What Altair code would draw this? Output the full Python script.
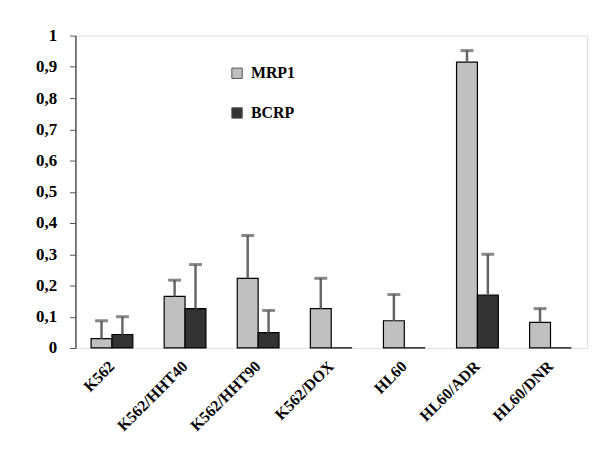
import altair as alt
import pandas as pd

categories = ["K562", "K562/HHT40", "K562/HHT90", "K562/DOX", "HL60", "HL60/ADR", "HL60/DNR"]
series = ["MRP1", "BCRP"]
mrp1 = [0.030, 0.165, 0.223, 0.126, 0.087, 0.915, 0.082]
mrp1_err = [0.057, 0.052, 0.137, 0.097, 0.084, 0.037, 0.044]
bcrp = [0.043, 0.126, 0.049, 0.0, 0.0, 0.169, 0.0]
bcrp_err = [0.057, 0.141, 0.071, 0.0, 0.0, 0.131, 0.0]
y_ticks = [0, 0.1, 0.2, 0.3, 0.4, 0.5, 0.6, 0.7, 0.8, 0.9, 1]

rows = []
for name, vals, errs in [("MRP1", mrp1, mrp1_err), ("BCRP", bcrp, bcrp_err)]:
    for c, v, e in zip(categories, vals, errs):
        rows.append({"cat": c, "series": name, "value": v, "err": e, "top": v + e})
df = pd.DataFrame(rows)
cat_df = pd.DataFrame({"cat": categories})

W, H = 516, 315
FONT = "Liberation Serif"

x_enc = alt.X(
    "cat:N", sort=categories, title=None,
    scale=alt.Scale(paddingInner=0, paddingOuter=0),
    axis=alt.Axis(
        bandPosition=1, tickExtra=True, labels=False,
        tickSize=5, tickColor="#555", tickWidth=1.5,
        domainColor="#888", domainWidth=3,
    ),
)
xo_enc = alt.XOffset("series:N", sort=series,
                     scale=alt.Scale(paddingInner=0, paddingOuter=0.75))

y_scale = alt.Scale(domain=[0, 1], nice=False)
y_axis = alt.Axis(values=y_ticks, grid=False, labelOverlap=False, tickCount=11,
                  labelExpr="replace(format(datum.value, '~g'), '.', ',')",
                  labelFont=FONT, labelFontWeight="bold", labelFontSize=17,
                  labelColor="black", labelPadding=13, tickSize=6,
                  tickColor="#555", domainColor="#555", domainWidth=1.5)

base = alt.Chart(df)

bars = base.mark_bar(stroke="black", strokeWidth=1.2).encode(
    x=x_enc,
    xOffset=xo_enc,
    y=alt.Y("value:Q", title=None, scale=y_scale, axis=y_axis),
    color=alt.Color("series:N", sort=series,
                    scale=alt.Scale(domain=series, range=["#c0c0c0", "#333333"]),
                    legend=alt.Legend(title=None, orient="none", legendX=155, legendY=30,
                                      symbolType="square", symbolSize=110,
                                      symbolStrokeColor="#555", symbolStrokeWidth=1,
                                      labelFont=FONT, labelFontWeight="bold",
                                      labelFontSize=16, labelColor="black",
                                      rowPadding=24, labelOffset=6)),
)

err_filter = alt.datum.err > 0

rules = base.transform_filter(err_filter).mark_rule(color="#666", strokeWidth=2.5).encode(
    x=x_enc, xOffset=xo_enc,
    y=alt.Y("value:Q", title=None, scale=y_scale, axis=y_axis),
    y2="top:Q",
)
caps = base.transform_filter(err_filter).mark_tick(color="#555", thickness=3, size=13).encode(
    x=x_enc, xOffset=xo_enc,
    y=alt.Y("top:Q", title=None, scale=y_scale, axis=y_axis),
)

labels = alt.Chart(cat_df).mark_text(
    angle=315, align="right", baseline="middle",
    font=FONT, fontWeight="bold", fontSize=16, color="black",
).encode(
    x=alt.X("cat:N", sort=categories, axis=None),
    y=alt.value(H + 16),
    text="cat:N",
)

chart = alt.layer(bars, rules, caps, labels).properties(
    width=W, height=H,
    padding={"left": 27, "top": 17, "right": 5, "bottom": 5},
).configure_view(stroke=None).configure_axisY(labelOverlap=False).configure(background="white")

chart.save("out.html", embed_options={"renderer": "svg", "actions": False})
